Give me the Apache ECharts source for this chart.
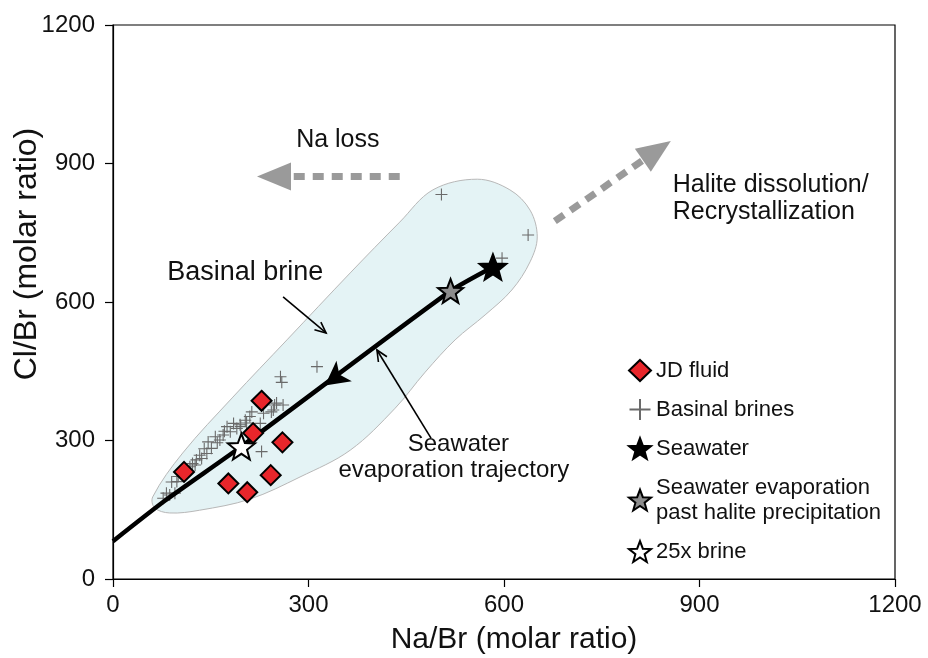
<!DOCTYPE html>
<html>
<head>
<meta charset="utf-8">
<script src="https://cdn.jsdelivr.net/npm/echarts@6/dist/echarts.min.js"></script>
<style>
  html, body { margin: 0; padding: 0; background: #fff; }
  #chart { width: 928px; height: 658px; }
</style>
</head>
<body>
<div id="chart"></div>
<script>
// Na/Br vs Cl/Br (molar ratios)
const xTicks = [0, 300, 600, 900, 1200];
const yTicks = [0, 300, 600, 900, 1200];

// JD fluid samples [Na/Br, Cl/Br]
const jdFluid = [
  [109, 232], [228, 386], [215, 316], [260, 296],
  [177, 207], [242, 225], [206, 188]
];

// Basinal brine compilation [Na/Br, Cl/Br]
const basinalBrines = [
  [504, 833], [637, 745], [597, 695], [313, 460], [257, 438], [259, 426],
  [251, 381], [261, 377], [246, 366], [248, 377], [243, 362], [231, 359],
  [226, 337], [213, 362], [210, 352], [205, 338], [203, 344], [196, 330],
  [195, 334], [190, 326], [185, 337], [180, 319], [175, 330], [171, 320],
  [169, 312], [164, 301], [160, 295], [157, 308], [146, 297], [151, 283],
  [144, 272], [140, 282], [136, 261], [133, 268], [128, 258], [126, 247],
  [122, 250], [118, 243], [113, 236], [108, 230], [100, 222], [98, 211],
  [90, 210], [95, 186], [87, 182], [82, 186], [77, 175], [228, 276]
];

// Reference waters
const seawater = [[583, 676]];
const evapPastHalite = [[518, 624]];
const brine25x = [[197, 287]];

// Seawater evaporation trajectory and its direction marker
const trajectory = [[0, 82], [80, 170], [197, 287], [518, 624], [583, 676]];
const trajectoryArrow = [[340, 435]];

// Outline of the basinal brine field
const brineField = [
  [640, 687], [612, 626], [571, 572], [525, 518], [479, 448], [433, 370],
  [364, 279], [287, 221], [210, 173], [133, 149], [87, 143], [64, 154],
  [61, 178], [107, 273], [184, 394], [267, 518], [364, 663], [440, 773],
  [491, 843], [559, 866], [609, 843], [640, 799], [651, 741]
];

const FONT = '"Liberation Sans", Arial, Helvetica, sans-serif';
const STAR = 'path://M50,0 L62.3,33 L97.55,34.55 L69.9,56.7 L79.39,90.45 L50,71 L20.61,90.45 L30.1,56.7 L2.45,34.55 L37.7,33 Z';
const CROSS = 'path://M0,5 L10,5 M5,0 L5,10';
const ARROW = 'path://M12.75,0 L25.5,24 L12.75,18 L0,24 Z';

const chart = echarts.init(document.getElementById('chart'), null, { renderer: 'canvas' });

const axisCommon = {
  min: 0, max: 1200, interval: 300,
  axisLine: { show: true, onZero: false, lineStyle: { color: '#000', width: 1.2 } },
  axisTick: { show: true, inside: false, length: 8, lineStyle: { color: '#000', width: 1.2 } },
  splitLine: { show: false },
  axisLabel: { color: '#111', fontFamily: FONT, fontSize: 24, formatter: function (v) { return String(v); } }
};

chart.setOption({
  animation: false,
  backgroundColor: '#fff',
  grid: { left: 113, right: 33, top: 25, bottom: 79, show: true, borderColor: '#000', borderWidth: 1.2, backgroundColor: 'transparent' },
  xAxis: Object.assign({ type: 'value' }, axisCommon, {
    axisLabel: Object.assign({}, axisCommon.axisLabel, { margin: 14 })
  }),
  yAxis: Object.assign({ type: 'value' }, axisCommon, {
    axisLabel: Object.assign({}, axisCommon.axisLabel, { margin: 18 })
  }),
  legend: {
    orient: 'vertical', left: 628, top: 358, padding: 0,
    itemGap: 14, itemWidth: 22, itemHeight: 21, itemTextGap: 7,
    textStyle: { fontFamily: FONT, fontSize: 22, color: '#111', lineHeight: 25 },
    data: ['JD fluid', 'Basinal brines', 'Seawater', 'Seawater evaporation\npast halite precipitation', '25x brine'],
    selectedMode: false
  },
  series: [
    {
      type: 'custom', name: 'Basinal brine field', silent: true, z: 1,
      data: [[0, 0]],
      renderItem: function (params, api) {
        const pts = brineField.map(function (p) { return api.coord(p); });
        return {
          type: 'polygon',
          shape: { points: pts, smooth: 0.35 },
          style: { fill: '#e4f3f5', stroke: '#b8b8b8', lineWidth: 1 }
        };
      }
    },
    {
      type: 'scatter', name: 'Basinal brines', data: basinalBrines, z: 3,
      symbol: CROSS, symbolSize: 12,
      itemStyle: { color: 'transparent', borderColor: '#6a6a6a', borderWidth: 1.1, opacity: 1 }
    },
    {
      type: 'line', name: 'Seawater evaporation trajectory', data: trajectory, z: 4,
      showSymbol: false, smooth: 0.2,
      lineStyle: { color: '#000', width: 4.5 }
    },
    {
      type: 'scatter', name: 'trajectory direction', data: trajectoryArrow, z: 5,
      symbol: ARROW, symbolSize: [25.5, 24], symbolRotate: 127,
      itemStyle: { color: '#000', opacity: 1 }
    },
    {
      type: 'scatter', name: 'JD fluid', data: jdFluid, z: 6,
      symbol: 'diamond', symbolSize: 20,
      itemStyle: { color: '#e8262b', borderColor: '#000', borderWidth: 2, opacity: 1 }
    },
    {
      type: 'scatter', name: 'Seawater', data: seawater, z: 6,
      symbol: STAR, symbolSize: 28, symbolKeepAspect: true,
      itemStyle: { color: '#000', borderColor: '#000', borderWidth: 1.5, opacity: 1 }
    },
    {
      type: 'scatter', name: 'Seawater evaporation\npast halite precipitation', data: evapPastHalite, z: 6,
      symbol: STAR, symbolSize: 25, symbolKeepAspect: true,
      itemStyle: { color: '#8c8c8c', borderColor: '#000', borderWidth: 2, opacity: 1 }
    },
    {
      type: 'scatter', name: '25x brine', data: brine25x, z: 6,
      symbol: STAR, symbolSize: 27, symbolKeepAspect: true,
      itemStyle: { color: '#fff', borderColor: '#000', borderWidth: 2, opacity: 1 }
    }
  ]
});

// Annotations placed in data space, converted to pixels through the grid
const toPx = function (p) { return chart.convertToPixel({ gridIndex: 0 }, p); };

function dashedArrow(from, to, headLen, headW) {
  const a = toPx(from), b = toPx(to);
  const dx = b[0] - a[0], dy = b[1] - a[1], L = Math.hypot(dx, dy);
  const ux = dx / L, uy = dy / L, nx = -uy, ny = ux;
  const base = [b[0] - ux * headLen, b[1] - uy * headLen];
  return [
    { type: 'line', silent: true, z: 10,
      shape: { x1: a[0], y1: a[1], x2: base[0] + ux * 2, y2: base[1] + uy * 2 },
      style: { stroke: '#9a9a9a', lineWidth: 7, lineDash: [11, 8] } },
    { type: 'polygon', silent: true, z: 10,
      shape: { points: [b, [base[0] + nx * headW / 2, base[1] + ny * headW / 2], [base[0] - nx * headW / 2, base[1] - ny * headW / 2]] },
      style: { fill: '#9a9a9a' } }
  ];
}

function thinArrow(from, to) {
  const a = toPx(from), b = toPx(to);
  const dx = b[0] - a[0], dy = b[1] - a[1], L = Math.hypot(dx, dy);
  const ux = dx / L, uy = dy / L, nx = -uy, ny = ux;
  const hl = 11, hw = 5;
  const base = [b[0] - ux * hl, b[1] - uy * hl];
  return [
    { type: 'line', silent: true, z: 10,
      shape: { x1: a[0], y1: a[1], x2: b[0], y2: b[1] },
      style: { stroke: '#000', lineWidth: 1.6 } },
    { type: 'polyline', silent: true, z: 10,
      shape: { points: [[base[0] + nx * hw, base[1] + ny * hw], b, [base[0] - nx * hw, base[1] - ny * hw]] },
      style: { stroke: '#000', lineWidth: 1.6, fill: null } }
  ];
}

function label(pos, text, size, align) {
  const p = toPx(pos);
  return { type: 'text', silent: true, z: 10, x: p[0], y: p[1],
    style: { text: text, fill: '#111', font: size + 'px ' + FONT, align: align || 'center', verticalAlign: 'middle' } };
}

const graphics = []
  .concat(dashedArrow([440, 872], [221, 872], 34, 28))
  .concat(dashedArrow([678, 775], [856, 949], 34, 28))
  .concat(thinArrow([261, 611], [327, 533]))
  .concat(thinArrow([488, 305], [405, 496]))
  .concat([
    label([345, 951], 'Na loss', 25),
    label([859, 853], 'Halite dissolution/', 25, 'left'),
    label([859, 795], 'Recrystallization', 25, 'left'),
    label([203, 663], 'Basinal brine', 27),
    label([530, 292], 'Seawater', 24),
    label([523, 236], 'evaporation trajectory', 24),
    // axis titles
    { type: 'text', silent: true, z: 10, x: 514, y: 640,
      style: { text: 'Na/Br (molar ratio)', fill: '#111', font: '30px ' + FONT, align: 'center', verticalAlign: 'middle' } },
    { type: 'text', silent: true, z: 10, x: 27, y: 254, rotation: Math.PI / 2,
      style: { text: 'Cl/Br (molar ratio)', fill: '#111', font: '32px ' + FONT, align: 'center', verticalAlign: 'middle' } }
  ]);

chart.setOption({ graphic: graphics });
</script>
</body>
</html>
